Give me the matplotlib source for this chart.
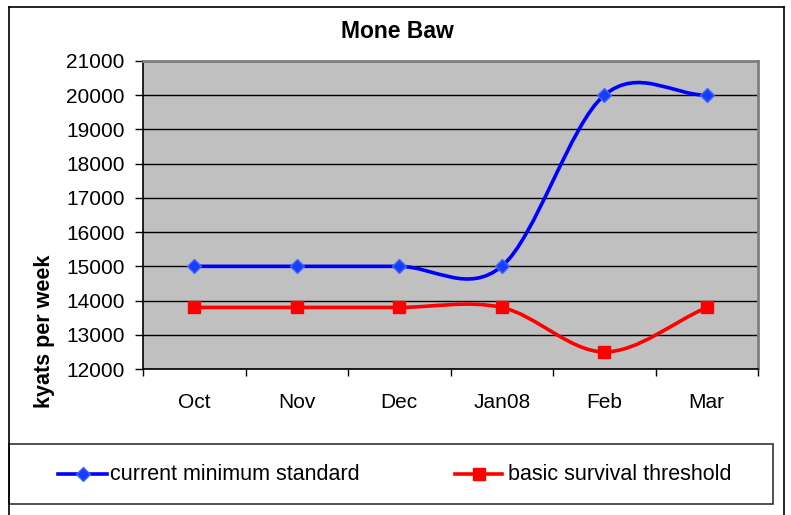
import numpy as np
import matplotlib
matplotlib.use("Agg")
import matplotlib.pyplot as plt
from matplotlib.path import Path
from matplotlib.patches import PathPatch, Rectangle
from matplotlib.lines import Line2D

plt.rcParams['font.family'] = ['Liberation Sans', 'DejaVu Sans']

title = "Mone Baw"
ylabel = "kyats per week"
months = ["Oct", "Nov", "Dec", "Jan08", "Feb", "Mar"]
current_min = [15000, 15000, 15000, 15000, 20000, 20000]
survival = [13800, 13800, 13800, 13800, 12500, 13800]
series_names = ["current minimum standard", "basic survival threshold"]
yticks = [12000, 13000, 14000, 15000, 16000, 17000, 18000, 19000, 20000, 21000]

W, H = 791, 515
fig = plt.figure(figsize=(W / 100, H / 100), dpi=100)
fig.patch.set_facecolor('white')


def fx(px):
    return px / W


def fy(py):
    return 1 - py / H


ax = fig.add_axes([fx(143), fy(369), fx(758) - fx(143), fy(61) - fy(369)])
ax.set_facecolor('#C0C0C0')
ax.set_xlim(-0.5, len(months) - 0.5)
ax.set_ylim(12000, 21000)
ax.set_yticks(yticks)
ax.set_yticklabels([str(v) for v in yticks], fontsize=15)
ax.set_xticks(np.arange(len(months) + 1) - 0.5)
ax.set_xticklabels([])
ax.set_xticks(np.arange(len(months)), minor=True)
ax.set_xticklabels(months, minor=True, fontsize=15)
ax.tick_params(axis='x', which='minor', length=0, pad=17)
ax.tick_params(axis='x', which='major', length=5, width=1, color='black', direction='out')
ax.tick_params(axis='y', length=5.8, width=1, color='black', direction='out', pad=7.5)
ax.yaxis.grid(True, color='black', linewidth=1)
ax.set_axisbelow(True)
for s in ['top', 'right']:
    ax.spines[s].set_color('#808080')
    ax.spines[s].set_linewidth(2)
for s in ['left', 'bottom']:
    ax.spines[s].set_color('black')
    ax.spines[s].set_linewidth(1.2)


def smooth_path(xs, ys):
    xs = np.asarray(xs, float)
    ys = np.asarray(ys, float)
    n = len(xs)
    mx = np.zeros(n)
    my = np.zeros(n)
    for i in range(n):
        if i == 0:
            mx[i], my[i] = xs[1] - xs[0], ys[1] - ys[0]
        elif i == n - 1:
            mx[i], my[i] = xs[-1] - xs[-2], ys[-1] - ys[-2]
        else:
            mx[i], my[i] = (xs[i + 1] - xs[i - 1]) / 2, (ys[i + 1] - ys[i - 1]) / 2
    verts = [(xs[0], ys[0])]
    codes = [Path.MOVETO]
    for i in range(n - 1):
        verts += [(xs[i] + mx[i] / 3, ys[i] + my[i] / 3),
                  (xs[i + 1] - mx[i + 1] / 3, ys[i + 1] - my[i + 1] / 3),
                  (xs[i + 1], ys[i + 1])]
        codes += [Path.CURVE4] * 3
    return Path(verts, codes)


x = np.arange(len(months))
styles = [
    dict(color='#0000FF', marker='D', ms=7, mfc='#1A3CFF', mec='#3C6BFF'),
    dict(color='#FF0000', marker='s', ms=8.5, mfc='#FF0000', mec='#FF0000'),
]
for vals, st in zip([current_min, survival], styles):
    ax.add_patch(PathPatch(smooth_path(x, vals), facecolor='none',
                           edgecolor=st['color'], lw=2.6, capstyle='round',
                           joinstyle='round', zorder=3))
    ax.plot(x, vals, linestyle='none', marker=st['marker'], ms=st['ms'],
            mfc=st['mfc'], mec=st['mec'], mew=1, zorder=4)

fig.text(fx(397), fy(31), title, ha='center', va='center', fontsize=16.5,
         fontweight='bold')
fig.text(fx(45), fy(331), ylabel, ha='center', va='center', rotation=90,
         fontsize=15.5, fontweight='bold')

# chart frame
frame_kw = dict(color='black', lw=1.2, transform=fig.transFigure)
fig.add_artist(Line2D([fx(9), fx(9)], [fy(7), 0], **frame_kw))
fig.add_artist(Line2D([fx(9), fx(784)], [fy(7), fy(7)], **frame_kw))
fig.add_artist(Line2D([fx(784), fx(784)], [fy(7), 0], **frame_kw))

# legend box
fig.add_artist(Rectangle((fx(9), fy(504)), fx(773) - fx(9), fy(444) - fy(504),
                         transform=fig.transFigure, facecolor='none',
                         edgecolor='#333333', lw=1.2))
leg_y = fy(474)
for (x0, x1, tx), name, st in zip([(58, 107, 110), (455, 502, 508)], series_names, styles):
    fig.add_artist(Line2D([fx(x0), fx(x1)], [leg_y, leg_y], color=st['color'], lw=2.6,
                          transform=fig.transFigure))
    fig.add_artist(Line2D([fx((x0 + x1) / 2)], [leg_y], linestyle='none',
                          marker=st['marker'], ms=st['ms'], mfc=st['mfc'],
                          mec=st['mec'], transform=fig.transFigure))
    fig.text(fx(tx), leg_y, name, ha='left', va='center', fontsize=15.5)

fig.savefig('out.png', dpi=100)
